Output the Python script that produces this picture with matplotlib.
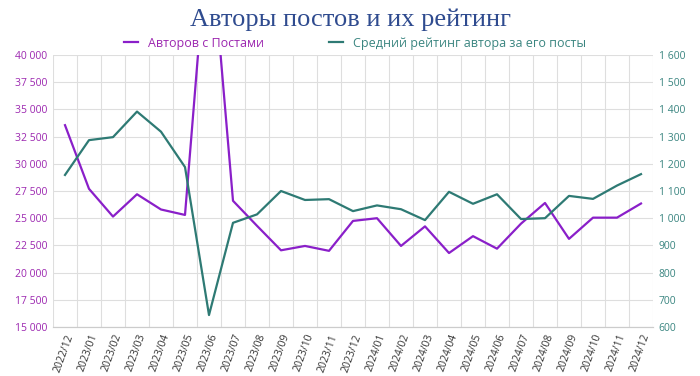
import matplotlib.pyplot as plt
import numpy as np
from matplotlib.ticker import FuncFormatter, MultipleLocator

months = ['2022/12', '2023/01', '2023/02', '2023/03', '2023/04', '2023/05',
          '2023/06', '2023/07', '2023/08', '2023/09', '2023/10', '2023/11',
          '2023/12', '2024/01', '2024/02', '2024/03', '2024/04', '2024/05',
          '2024/06', '2024/07', '2024/08', '2024/09', '2024/10', '2024/11',
          '2024/12']
authors = [33550, 27700, 25150, 27200, 25800, 25300,
           52500, 26600, 24300, 22050, 22450, 22000,
           24750, 25000, 22450, 24250, 21800, 23350,
           22200, 24500, 26400, 23100, 25050, 25050,
           26350]
rating = [1159, 1287, 1298, 1392, 1318, 1188,
          644, 983, 1014, 1100, 1067, 1070,
          1026, 1047, 1033, 993, 1097, 1053,
          1088, 997, 1000, 1082, 1071, 1120,
          1162]

purple = '#8a1fc9'
teal = '#2e7a74'
purple_txt = '#9c27b0'
teal_txt = '#3a8580'
grid_c = '#dedede'

def fmt_space(v, pos):
    return f"{int(round(v)):,}".replace(',', ' ')

plt.rcParams['font.family'] = ['Open Sans', 'DejaVu Sans']

fig = plt.figure(figsize=(7, 3.76), dpi=100)
ax = fig.add_axes([53/700, 1-327/376, 600/700, 272/376])
ax2 = ax.twinx()

x = np.arange(len(months))
ax.plot(x, authors, color=purple, lw=1.6, label='Авторов с Постами')
ax2.plot(x, rating, color=teal, lw=1.6, label='Средний рейтинг автора за его посты')

ax.set_xlim(-0.5, len(months) - 0.5)
ax.set_ylim(15000, 40000)
ax2.set_ylim(600, 1600)
ax.yaxis.set_major_locator(MultipleLocator(2500))
ax2.yaxis.set_major_locator(MultipleLocator(100))
ax.yaxis.set_major_formatter(FuncFormatter(fmt_space))
ax2.yaxis.set_major_formatter(FuncFormatter(fmt_space))

ax.set_xticks(x)
ax.set_xticklabels(months, rotation=70, ha='right', rotation_mode='anchor',
                   fontsize=7.5, color='#333333')
ax.set_xticks(np.arange(-0.5, len(months), 1), minor=True)
ax.grid(True, which='minor', axis='x', color=grid_c, lw=0.8)
ax.grid(True, which='major', axis='y', color=grid_c, lw=0.8)
ax.tick_params(axis='x', which='major', length=0, pad=4)
ax.tick_params(axis='x', which='minor', length=0)
ax.tick_params(axis='y', length=0, labelsize=7.5, labelcolor=purple_txt, pad=4)
ax2.tick_params(axis='y', length=0, labelsize=7.5, labelcolor=teal_txt, pad=4)
for a in (ax, ax2):
    for s in ('top', 'left', 'right'):
        a.spines[s].set_visible(False)
    a.spines['bottom'].set_color('#cccccc')

fig.text(0.5, 0.948, 'Авторы постов и их рейтинг', ha='center', va='center',
         fontsize=19, color='#2f4b8f', family=['Liberation Serif', 'DejaVu Serif'])

h1, l1 = ax.get_legend_handles_labels()
h2, l2 = ax2.get_legend_handles_labels()
leg = fig.legend(h1 + h2, l1 + l2, loc='center', bbox_to_anchor=(0.507, 0.885),
                 ncol=2, frameon=False, fontsize=9, handlelength=1.1,
                 columnspacing=5.2, handletextpad=0.8)
for t, c in zip(leg.get_texts(), [purple_txt, teal_txt]):
    t.set_color(c)

fig.savefig('out.png', dpi=100)
